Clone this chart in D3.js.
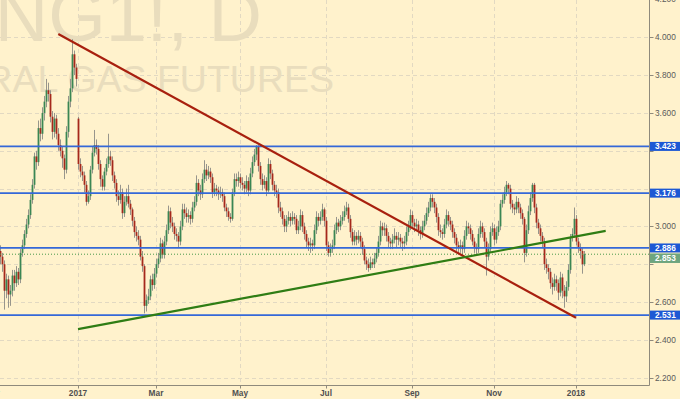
<!DOCTYPE html>
<html><head><meta charset="utf-8">
<script src="https://cdn.jsdelivr.net/npm/d3@7"></script>
<style>html,body{margin:0;padding:0;background:#fff2cc;}svg{display:block;}</style>
</head><body>
<script>
// ---- data (NG1!, daily, Nov 2016 – Jan 2018) ----
const firstOpen = 2.87;
const closes = [
2.84,2.80,2.66,2.72,2.64,2.66,2.74,2.70,2.76,2.72,
2.86,2.90,2.96,3.01,3.06,3.14,3.22,3.37,3.34,3.52,
3.49,3.60,3.66,3.72,3.70,3.58,3.50,3.57,3.49,3.43,
3.40,3.36,3.30,3.50,3.66,3.73,3.91,3.84,3.78,3.33,
3.29,3.27,3.22,3.13,3.16,3.30,3.39,3.43,3.41,3.33,
3.25,3.21,3.29,3.33,3.37,3.35,3.27,3.23,3.16,3.14,
3.18,3.07,3.13,3.16,3.12,3.09,3.03,2.97,2.95,2.93,
2.84,2.79,2.58,2.61,2.63,2.72,2.69,2.75,2.80,2.83,
2.91,2.85,2.92,2.98,3.08,3.02,3.00,2.96,2.95,2.92,
3.00,3.09,3.07,3.05,3.06,3.04,3.10,3.13,3.23,3.19,
3.17,3.25,3.30,3.27,3.29,3.26,3.18,3.20,3.19,3.17,
3.18,3.16,3.10,3.08,3.05,3.04,3.18,3.25,3.24,3.26,
3.23,3.22,3.20,3.24,3.19,3.28,3.34,3.38,3.42,3.32,
3.25,3.22,3.24,3.19,3.33,3.28,3.22,3.19,3.18,3.10,
3.08,3.04,3.00,3.03,3.05,3.03,3.05,3.04,2.98,3.00,
3.06,3.00,2.96,2.92,2.90,2.91,2.90,2.98,3.05,3.03,
3.05,3.09,3.03,2.90,2.86,2.88,2.90,2.98,3.02,3.00,
3.03,3.05,3.08,3.10,3.04,2.97,2.92,2.95,2.93,2.95,
2.92,2.88,2.82,2.80,2.78,2.81,2.80,2.83,2.86,2.92,
3.00,2.98,2.99,2.95,2.92,2.91,2.93,2.95,2.93,2.94,
2.92,2.91,2.92,2.97,3.00,3.06,3.02,3.00,3.01,2.98,
2.96,3.00,3.03,3.07,3.10,3.15,3.13,3.10,3.05,2.98,
2.97,2.96,3.01,3.06,3.03,3.01,2.97,2.94,2.90,2.89,
2.90,2.88,2.95,3.00,2.99,2.96,2.92,2.89,2.88,2.96,
3.00,2.97,2.92,2.84,2.88,2.97,2.99,2.93,2.97,3.00,
3.12,3.14,3.18,3.22,3.20,3.12,3.10,3.09,3.13,3.10,
3.07,3.04,2.86,2.98,3.08,3.15,3.22,3.10,3.02,2.99,
2.95,2.92,2.80,2.78,2.76,2.70,2.68,2.72,2.70,2.65,
2.73,2.66,2.63,2.68,2.77,2.94,2.96,3.04,2.92,2.89,
2.87,2.80,2.853
];
const highs = [
2.90,2.86,2.82,2.75,2.74,2.69,2.77,2.77,2.79,2.78,
2.88,2.93,2.98,3.04,3.09,3.17,3.25,3.39,3.40,3.56,
3.57,3.63,3.69,3.78,3.76,3.72,3.61,3.60,3.59,3.52,
3.46,3.42,3.38,3.53,3.69,3.78,3.99,3.93,3.86,3.58,
3.36,3.32,3.29,3.24,3.19,3.32,3.42,3.51,3.46,3.43,
3.35,3.27,3.31,3.36,3.49,3.40,3.37,3.29,3.25,3.19,
3.22,3.20,3.16,3.20,3.22,3.14,3.10,3.05,3.00,2.98,
2.95,2.87,2.80,2.64,2.67,2.74,2.75,2.78,2.83,2.86,
2.94,2.93,2.95,3.01,3.11,3.10,3.05,3.02,2.99,2.97,
3.03,3.12,3.12,3.10,3.09,3.08,3.13,3.16,3.27,3.25,
3.22,3.28,3.35,3.33,3.32,3.31,3.28,3.23,3.22,3.21,
3.21,3.20,3.18,3.12,3.10,3.07,3.20,3.28,3.28,3.29,
3.28,3.26,3.24,3.27,3.26,3.31,3.37,3.41,3.43,3.43,
3.34,3.28,3.27,3.26,3.36,3.35,3.30,3.24,3.22,3.20,
3.13,3.10,3.06,3.06,3.08,3.07,3.08,3.07,3.06,3.03,
3.09,3.08,3.02,2.98,2.94,2.94,2.93,3.01,3.08,3.07,
3.08,3.12,3.10,3.05,2.92,2.91,2.93,3.01,3.05,3.04,
3.06,3.08,3.11,3.13,3.12,3.06,2.99,2.98,2.97,2.98,
2.97,2.94,2.90,2.84,2.83,2.84,2.83,2.86,2.89,2.95,
3.03,3.02,3.02,3.01,2.97,2.94,2.96,2.99,2.97,2.97,
2.96,2.94,2.95,3.00,3.03,3.09,3.08,3.04,3.04,3.03,
3.00,3.03,3.06,3.10,3.13,3.17,3.17,3.15,3.12,3.07,
3.01,2.99,3.04,3.09,3.08,3.05,3.03,2.99,2.96,2.92,
2.93,2.92,2.98,3.03,3.02,3.01,2.98,2.94,2.91,2.99,
3.03,3.02,2.99,2.94,2.91,3.00,3.02,3.01,3.00,3.03,
3.14,3.17,3.21,3.24,3.23,3.22,3.14,3.12,3.16,3.15,
3.12,3.09,3.05,3.01,3.11,3.18,3.23,3.23,3.12,3.04,
3.01,2.97,2.94,2.83,2.80,2.78,2.73,2.75,2.74,2.72,
2.76,2.75,2.69,2.71,2.80,2.96,2.99,3.10,3.06,2.94,
2.91,2.89,2.87
];
const lows = [
2.80,2.76,2.56,2.62,2.57,2.58,2.63,2.66,2.68,2.69,
2.70,2.84,2.88,2.94,2.99,3.04,3.12,3.20,3.30,3.32,
3.45,3.46,3.56,3.63,3.66,3.55,3.46,3.47,3.46,3.40,
3.37,3.31,3.25,3.28,3.47,3.63,3.71,3.80,3.74,3.30,
3.26,3.24,3.18,3.11,3.12,3.14,3.28,3.37,3.38,3.30,
3.21,3.19,3.19,3.27,3.31,3.32,3.24,3.20,3.13,3.11,
3.12,3.04,3.05,3.11,3.10,3.06,3.00,2.94,2.92,2.90,
2.82,2.76,2.54,2.55,2.59,2.61,2.66,2.67,2.73,2.78,
2.81,2.83,2.83,2.90,2.96,2.99,2.97,2.93,2.92,2.89,
2.90,2.98,3.04,3.02,3.02,3.01,3.02,3.08,3.11,3.16,
3.14,3.15,3.23,3.24,3.25,3.23,3.15,3.16,3.16,3.14,
3.15,3.13,3.08,3.05,3.03,3.02,3.03,3.16,3.21,3.21,
3.20,3.19,3.17,3.18,3.16,3.17,3.26,3.32,3.35,3.29,
3.22,3.19,3.20,3.16,3.18,3.25,3.19,3.16,3.15,3.07,
3.05,3.01,2.97,2.97,3.01,3.00,3.01,3.01,2.96,2.96,
2.98,2.97,2.93,2.89,2.87,2.86,2.87,2.88,2.96,3.00,
3.01,3.03,3.00,2.87,2.84,2.84,2.86,2.88,2.96,2.97,
2.98,3.01,3.03,3.06,3.02,2.94,2.90,2.90,2.90,2.91,
2.89,2.85,2.80,2.77,2.76,2.77,2.78,2.78,2.81,2.84,
2.90,2.95,2.95,2.92,2.89,2.88,2.88,2.91,2.89,2.90,
2.89,2.87,2.88,2.90,2.95,2.98,2.99,2.97,2.98,2.95,
2.93,2.94,2.98,3.01,3.05,3.08,3.10,3.07,3.02,2.95,
2.94,2.93,2.94,2.99,3.00,2.98,2.94,2.91,2.87,2.85,
2.86,2.85,2.86,2.93,2.96,2.93,2.90,2.86,2.85,2.86,
2.94,2.94,2.89,2.74,2.82,2.86,2.95,2.90,2.91,2.95,
2.98,3.10,3.12,3.16,3.17,3.09,3.07,3.06,3.07,3.07,
3.04,3.01,2.81,2.84,2.96,3.06,3.13,3.07,2.99,2.96,
2.92,2.89,2.77,2.75,2.72,2.67,2.64,2.66,2.66,2.61,
2.63,2.62,2.57,2.60,2.66,2.75,2.92,2.94,2.90,2.86,
2.83,2.75,2.79
];
// opening gaps that differ from the previous close: [bar index, open]
const openGaps = [[39, 3.57]];

const priceTicks = [2.2, 2.4, 2.6, 2.8, 3.0, 3.2, 3.4, 3.6, 3.8, 4.0, 4.2];
const timeTickLabels = ["Nov", "2017", "Mar", "May", "Jul", "Sep", "Nov", "2018"];
const timeTickBars   = [-4, 39, 78, 120, 163, 206, 247, 288];

const levelValues = [3.423, 3.176, 2.886, 2.531];
const lastPrice = 2.853;
// trend lines: [bar index, price] end points
const redTrend   = [[29.15, 4.017], [288.0, 2.517]];
const greenTrend = [[39.0, 2.457], [302.85, 2.976]];

const titleText = "NG1!, D";
const subtitleText = "NATURAL GAS FUTURES";

// ---- layout ----
const W = 680, H = 399;
const plotRight = 649.5, plotBottom = 385.5;

const opens = closes.map((c, i) => i === 0 ? firstOpen : closes[i - 1]);
openGaps.forEach(([i, o]) => { opens[i] = o; });
const bars = closes.map((c, i) => ({i, o: opens[i], h: highs[i], l: lows[i], c}));

const x = d3.scaleLinear().domain([0, closes.length - 1]).range([0, 584]);
const y = d3.scaleLinear().domain([2.2, 4.0]).range([377.7, 37.3]);

const svg = d3.select("body").append("svg").attr("width", W).attr("height", H)
  .style("font-family", "'Liberation Sans', Arial, sans-serif");
svg.append("rect").attr("width", W).attr("height", H).attr("fill", "#fff2cc");

svg.append("defs").append("clipPath").attr("id", "plot")
  .append("rect").attr("x", 0).attr("y", 0).attr("width", plotRight).attr("height", plotBottom);

const plot = svg.append("g").attr("clip-path", "url(#plot)");

// grid
plot.append("g").selectAll("line").data(priceTicks).join("line")
  .attr("x1", 0).attr("x2", plotRight)
  .attr("y1", d => Math.round(y(d)) + 0.5).attr("y2", d => Math.round(y(d)) + 0.5)
  .attr("stroke", "#e2d9c2").attr("stroke-dasharray", "4,3");
plot.append("g").selectAll("line").data(timeTickBars).join("line")
  .attr("y1", 0).attr("y2", plotBottom)
  .attr("x1", d => Math.round(x(d)) + 0.5).attr("x2", d => Math.round(x(d)) + 0.5)
  .attr("stroke", "#e2d9c2").attr("stroke-dasharray", "4,3");

// watermark
plot.append("text").attr("x", 262).attr("y", 41).attr("text-anchor", "end")
  .attr("font-size", 74).attr("fill", "#e9ddbd").text(titleText);
plot.append("text").attr("x", 334).attr("y", 92).attr("text-anchor", "end")
  .attr("font-size", 37.5).attr("fill", "#e9ddbd").text(subtitleText);

// candles
const cg = plot.append("g");
cg.selectAll("line").data(bars).join("line")
  .attr("x1", d => x(d.i) + 0.5).attr("x2", d => x(d.i) + 0.5)
  .attr("y1", d => y(d.h)).attr("y2", d => y(d.l))
  .attr("stroke", "#97958c").attr("stroke-width", 1);
cg.selectAll("rect").data(bars).join("rect")
  .attr("x", d => x(d.i) - 0.4).attr("width", 1.8)
  .attr("y", d => y(Math.max(d.o, d.c)))
  .attr("height", d => Math.max(1, Math.abs(y(d.o) - y(d.c))))
  .attr("fill", d => d.c >= d.o ? "#3a8654" : "#a5281c");

// horizontal levels
plot.append("g").selectAll("line").data(levelValues).join("line")
  .attr("x1", 0).attr("x2", plotRight)
  .attr("y1", d => y(d)).attr("y2", d => y(d))
  .attr("stroke", "#3568d8").attr("stroke-width", 1.8);

// last price dotted line
plot.append("line").attr("x1", 0).attr("x2", plotRight)
  .attr("y1", y(lastPrice)).attr("y2", y(lastPrice))
  .attr("stroke", "#4a9a4a").attr("stroke-width", 1).attr("stroke-dasharray", "1,2");

// trend lines
const tl = d3.line().x(d => x(d[0])).y(d => y(d[1]));
plot.append("path").attr("d", tl(redTrend)).attr("fill", "none")
  .attr("stroke", "#a8200e").attr("stroke-width", 2.2);
plot.append("path").attr("d", tl(greenTrend)).attr("fill", "none")
  .attr("stroke", "#2f7d14").attr("stroke-width", 2.2);

// axes
svg.append("line").attr("x1", plotRight).attr("x2", plotRight).attr("y1", 0).attr("y2", plotBottom)
  .attr("stroke", "#8f8a7c");
svg.append("line").attr("x1", 0).attr("x2", plotRight).attr("y1", plotBottom).attr("y2", plotBottom)
  .attr("stroke", "#8f8a7c");

// label positions on the price scale (last price pushed below a level label it would overlap)
let lastY = y(lastPrice);
levelValues.forEach(v => { const yy = y(v); if (Math.abs(yy - lastY) < 9.5) lastY = yy + 10; });
const labelYs = levelValues.map(v => y(v)).concat([lastY]);
const visibleTicks = priceTicks.filter(t => labelYs.every(ly => Math.abs(ly - y(t)) > 9));

const ra = svg.append("g");
ra.selectAll("line").data(priceTicks).join("line")
  .attr("x1", plotRight).attr("x2", plotRight + 4)
  .attr("y1", d => Math.round(y(d)) + 0.5).attr("y2", d => Math.round(y(d)) + 0.5)
  .attr("stroke", "#8f8a7c");
ra.selectAll("text").data(visibleTicks).join("text")
  .attr("x", 655).attr("y", d => y(d)).attr("dy", "0.35em")
  .attr("font-size", 8.3).attr("fill", "#5a5a5a")
  .text(d => d3.format(".3f")(d));

const ba = svg.append("g");
ba.selectAll("line").data(timeTickBars).join("line")
  .attr("x1", d => Math.round(x(d)) + 0.5).attr("x2", d => Math.round(x(d)) + 0.5)
  .attr("y1", plotBottom).attr("y2", plotBottom + 3)
  .attr("stroke", "#8f8a7c");
ba.selectAll("text").data(timeTickLabels).join("text")
  .attr("x", (d, k) => x(timeTickBars[k])).attr("y", 396)
  .attr("text-anchor", "middle").attr("font-size", 8.3).attr("font-weight", "bold")
  .attr("fill", "#505050").text(d => d);

// level labels
const lab = svg.append("g");
levelValues.forEach(v => {
  const yy = y(v);
  lab.append("rect").attr("x", 650).attr("y", yy - 4.5).attr("width", 30).attr("height", 9)
    .attr("fill", "#1d58d4");
  lab.append("text").attr("x", 655).attr("y", yy).attr("dy", "0.35em")
    .attr("font-size", 8.3).attr("font-weight", "bold").attr("fill", "#ffffff")
    .text(d3.format(".3f")(v));
});
lab.append("rect").attr("x", 650).attr("y", lastY - 4.5).attr("width", 30).attr("height", 9.5)
  .attr("fill", "#6ea57e");
lab.append("text").attr("x", 655).attr("y", lastY).attr("dy", "0.35em")
  .attr("font-size", 8.3).attr("font-weight", "bold").attr("fill", "#ffffff")
  .text(d3.format(".3f")(lastPrice));
</script>
</body></html>
